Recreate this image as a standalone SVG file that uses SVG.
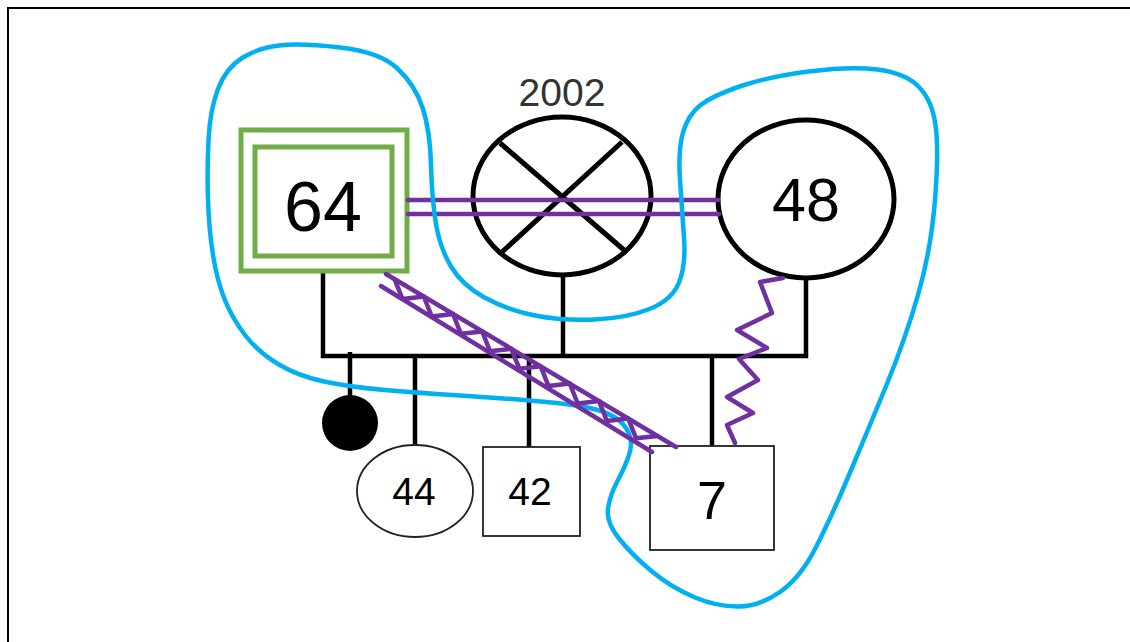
<svg xmlns="http://www.w3.org/2000/svg" width="1130" height="642" viewBox="0 0 1130 642">
<style>
.txt{font-family:"Liberation Sans",Arial,sans-serif;text-anchor:middle;fill:#000}
.thick{fill:none;stroke:#000;stroke-width:5}
.line{fill:none;stroke:#000;stroke-width:4.5}
.thin{fill:#fff;stroke:#222;stroke-width:1.8}
.green{fill:none;stroke:#70AD47;stroke-width:5}
.purple{fill:none;stroke:#7030A0;stroke-width:4.5;stroke-linejoin:round;stroke-linecap:round}
.blue{fill:none;stroke:#00B0F0;stroke-width:4.5}
</style>
<rect width="1130" height="642" fill="#fff"/>
<path d="M8,642 V8 H1130" fill="none" stroke="#000" stroke-width="2"/>

<g id="connectors">
  <polyline class="line" points="323,272 323,356 806,356 806,278"/>
  <line class="line" x1="563" y1="275" x2="563" y2="356"/>
  <line class="line" x1="350" y1="352" x2="350" y2="400"/>
  <line class="line" x1="415" y1="356" x2="415" y2="446"/>
  <line class="line" x1="529" y1="356" x2="529" y2="447"/>
  <line class="line" x1="712" y1="356" x2="712" y2="446"/>
</g>

<g id="node-64">
  <rect class="green" x="241" y="130" width="166" height="141"/>
  <rect class="green" x="255" y="147" width="137" height="109"/>
  <text class="txt" x="323" y="231" font-size="70">64</text>
</g>

<g id="node-2002">
  <ellipse class="thick" cx="562" cy="196" rx="89" ry="79"/>
  <line class="thick" x1="500" y1="143" x2="624" y2="250" stroke-width="4.5"/>
  <line class="thick" x1="622" y1="142" x2="502" y2="252" stroke-width="4.5"/>
  <text class="txt" x="562" y="106" font-size="39" style="fill:#333">2002</text>
</g>

<g id="node-48">
  <ellipse class="thick" cx="806" cy="199" rx="88" ry="79"/>
  <text class="txt" x="806" y="221" font-size="61">48</text>
</g>

<g id="node-deceased">
  <circle cx="350" cy="423" r="28" fill="#000"/>
</g>

<g id="node-44">
  <ellipse class="thin" cx="415" cy="491" rx="58" ry="46"/>
  <text class="txt" x="414" y="505" font-size="39">44</text>
</g>

<g id="node-42">
  <rect class="thin" x="483" y="447" width="97" height="89"/>
  <text class="txt" x="530" y="505" font-size="39">42</text>
</g>

<g id="node-7">
  <rect class="thin" x="650" y="446" width="124" height="104"/>
  <text class="txt" x="712" y="519" font-size="54">7</text>
</g>

<g id="relations">
  <line class="purple" x1="408" y1="200" x2="718" y2="200"/>
  <line class="purple" x1="408" y1="214" x2="719" y2="214"/>
</g>

<g id="contour">
  <path class="blue" d="M279,45.5 Q300,43 340,47.5 Q380,52 397.5,68.5 Q415,85 422.5,107.5 Q430,130 431,165 Q432,200 436,224 Q440,248 451,266.5 Q462,285 484.5,297.5 Q507,310 535,315.5 Q563,321 595,319.5 Q627,318 649.5,309 Q672,300 679,282.5 Q686,265 684,237.5 Q682,210 680,180 Q678,150 683,132.5 Q688,115 700,105.5 Q712,96 739.5,86.5 Q767,77 808.5,71.5 Q850,66 877.5,69.5 Q905,73 918.5,86.5 Q932,100 935.5,125 Q939,150 935,200 Q931,250 918,295 Q905,340 886.5,385 Q868,430 849,475 Q830,520 815,549 Q800,578 780,592 Q760,606 739,606.5 Q718,607 695,597.5 Q672,588 652,571.5 Q632,555 619,538.5 Q606,522 608,508.5 Q610,495 617.5,481 Q625,467 629,455 Q633,443 629,433.5 Q625,424 615,417.5 Q605,411 587.5,407.5 Q570,404 535,401 Q500,398 460,395.5 Q420,393 385,390 Q350,387 324,381.5 Q298,376 278,364 Q258,352 245,335 Q232,318 224.5,299 Q217,280 213,255 Q209,230 208,200 Q207,170 208.5,140 Q210,110 218,89 Q226,68 242,58 Q258,48 279,45.5 Z"/>
</g>

<g id="hostile">
  <line class="purple" x1="386" y1="274" x2="676" y2="447"/>
  <line class="purple" x1="381" y1="286" x2="652" y2="452"/>
  <polyline class="purple" stroke-width="4" points="394.6,279.1 402.5,299 423.8,296.5 431.7,316.4 453,314 460.9,333.8 482.2,331.4 490.1,351.3 511.4,348.8 519.3,368.7 540.6,366.2 548.5,386.1 569.8,383.6 577.7,403.5 599,401.1 606.9,420.9 628.2,418.5 636.1,438.3 657.4,435.9"/>
  <polyline class="purple" points="783,278 760,282 772,313 737,330 767,348 739,359 758,380 727,397 753,413 727,425 735,443"/>
</g>
</svg>
